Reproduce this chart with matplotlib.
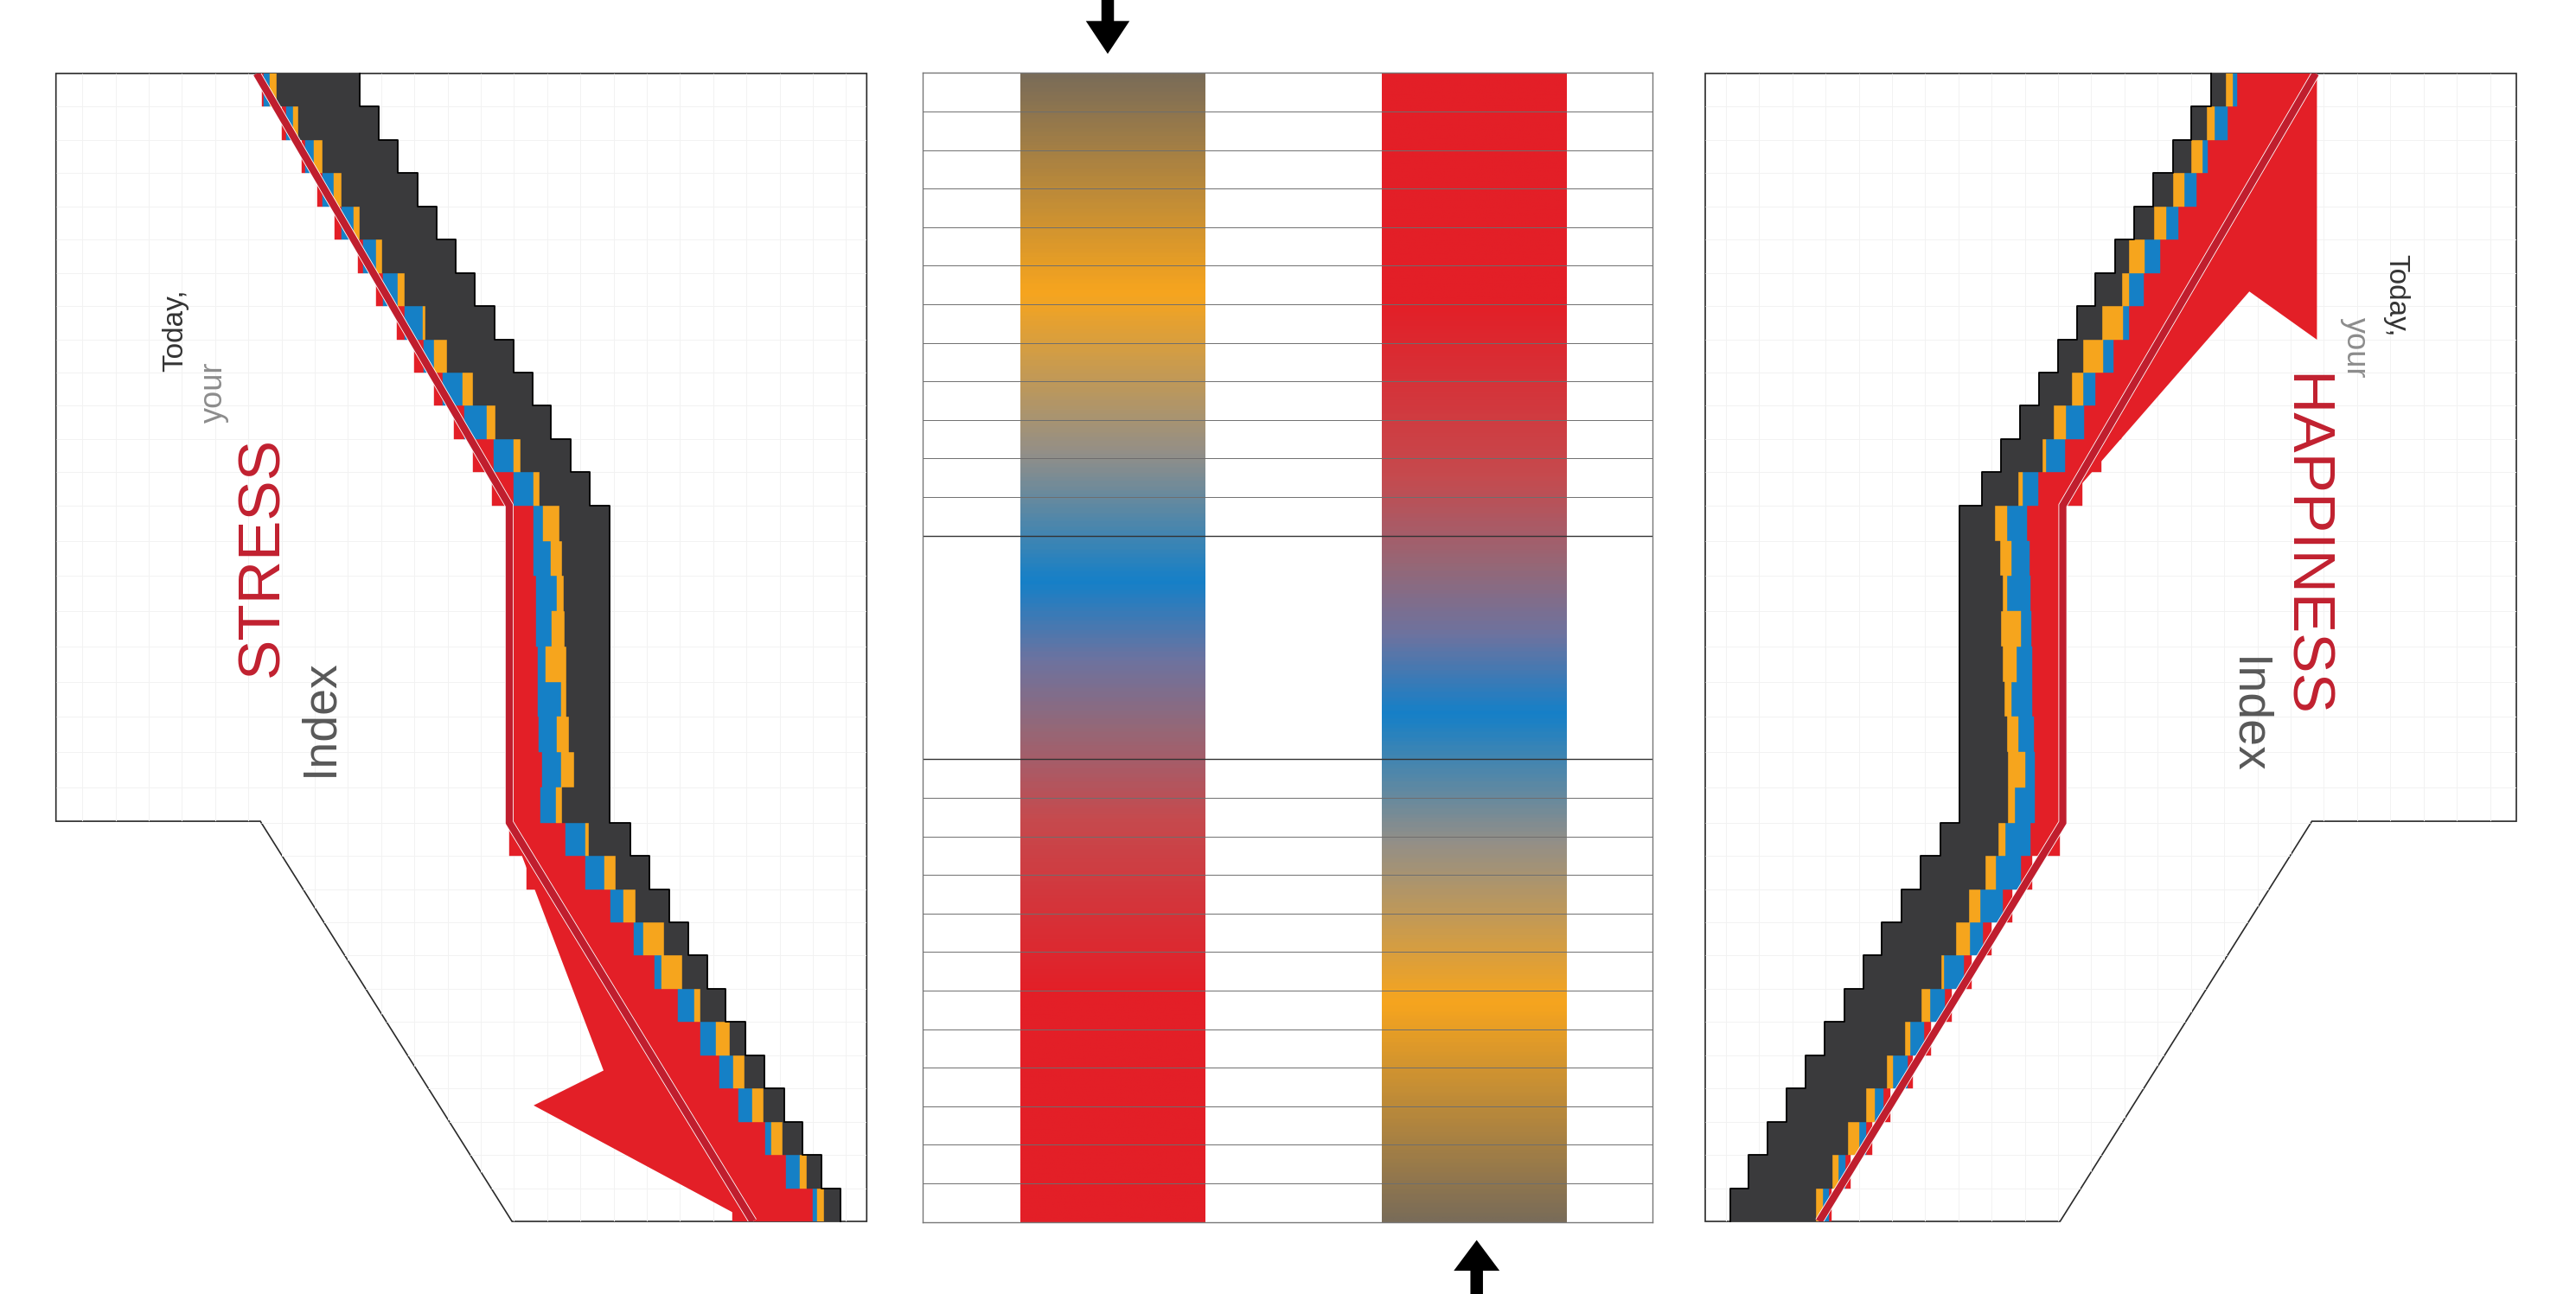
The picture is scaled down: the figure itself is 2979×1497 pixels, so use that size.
import numpy as np
import matplotlib.pyplot as plt
import matplotlib.patheffects as pe
from matplotlib.patches import Polygon, FancyArrow
from matplotlib.colors import LinearSegmentedColormap

plt.rcParams['font.family'] = ['Liberation Sans', 'DejaVu Sans']

# colours
RED = '#e31f27'
BLUE = '#1580c6'
ORANGE = '#f6a51d'
DARK = '#3a3a3c'
LINE_RED = '#c01e2e'

# ---- data: 34 daily rows, boundaries in grid cells from the panel's outer edge ----
rows = np.arange(34)

stress_red_start = ([6.09, 6.68, 7.27, 7.75, 8.26, 8.93, 9.49, 10.09, 10.61, 11.19, 11.77, 12.34, 12.92]
                    + [13.40] * 9
                    + [13.42, 13.93, 14.54, 15.15, 15.76, 16.37, 16.98, 17.59, 18.20, 18.81, 19.42, 20.03])
stress_blue_start = [6.14, 6.82, 7.39, 7.88, 8.45, 9.10, 9.68, 10.33, 10.88, 11.45, 12.10, 12.95, 13.55,
                     14.15, 14.15, 14.21, 14.22, 14.27, 14.27, 14.29, 14.40, 14.33,
                     15.09, 15.67, 16.41, 17.10, 17.73, 18.41, 19.07, 19.63, 20.21, 21.00, 21.60, 22.40]
stress_orange_start = [6.34, 7.03, 7.63, 8.23, 8.82, 9.49, 10.11, 10.85, 11.19, 12.05, 12.76, 13.55, 14.13,
                       14.42, 14.66, 14.84, 14.67, 14.50, 14.95, 14.83, 14.95, 14.80,
                       15.67, 16.24, 16.80, 17.40, 17.92, 18.89, 19.53, 20.06, 20.61, 21.17, 22.01, 22.54]
stress_dark_start = [6.53, 7.18, 7.90, 8.45, 9.00, 9.65, 10.32, 10.93, 11.57, 12.34, 13.00, 13.76, 14.32,
                     14.91, 14.97, 15.04, 15.07, 15.12, 15.12, 15.18, 15.33, 14.97,
                     15.78, 16.58, 17.15, 18.00, 18.55, 19.07, 19.96, 20.38, 20.95, 21.51, 22.23, 22.75]
stress_dark_end = ([9.00, 9.56, 10.13, 10.71, 11.27, 11.84, 12.40, 12.99, 13.55, 14.10, 14.66, 15.23, 15.81]
                   + [16.40] * 9
                   + [17.01, 17.58, 18.16, 18.72, 19.29, 19.83, 20.40, 20.98, 21.55, 22.10, 22.66, 23.23])

happy_red_start = ([5.94, 6.52, 7.09, 7.67, 8.24, 8.82, 9.39, 9.97, 10.54, 11.12, 11.69, 12.27, 12.84]
                   + [13.40] * 9
                   + [13.50, 14.33, 14.91, 15.52, 16.11, 16.70, 17.32, 17.87, 18.52, 19.06, 19.71, 20.26])
happy_blue_start = [8.26, 8.54, 9.13, 9.46, 10.01, 10.54, 11.04, 11.47, 11.92, 12.45, 12.80, 13.36, 14.16,
                    14.49, 14.41, 14.38, 14.36, 14.33, 14.33, 14.28, 14.26, 14.25,
                    14.39, 14.66, 15.19, 15.79, 16.36, 16.90, 17.52, 18.02, 18.73, 19.23, 19.85, 20.34]
happy_orange_start = [8.38, 8.94, 9.29, 9.82, 10.37, 11.00, 11.47, 11.64, 12.23, 12.83, 13.33, 13.93, 14.61,
                      15.08, 14.94, 15.08, 14.66, 14.79, 14.94, 14.74, 14.53, 14.83,
                      15.11, 15.41, 15.87, 16.16, 16.94, 17.35, 17.93, 18.45, 18.98, 19.45, 20.06, 20.51]
happy_dark_start = [8.59, 9.16, 9.61, 10.17, 10.72, 11.45, 11.67, 12.25, 12.83, 13.16, 13.70, 14.03, 14.74,
                    15.44, 15.28, 15.21, 15.24, 15.19, 15.14, 15.08, 15.04, 15.04,
                    15.33, 15.71, 16.19, 16.57, 17.02, 17.60, 18.10, 18.62, 19.25, 19.78, 20.23, 20.73]
happy_dark_end = ([9.04, 9.61, 10.17, 10.74, 11.30, 11.87, 12.45, 13.00, 13.56, 14.13, 14.69, 15.26, 15.82]
                  + [16.49] * 9
                  + [17.05, 17.62, 18.18, 18.77, 19.31, 19.88, 20.46, 21.03, 21.59, 22.16, 22.72, 23.27])

# row layout: the nine flat rows in the middle are slightly taller
row_h = np.array([1.0] * 13 + [1.06] * 9 + [1.0] * 12)
row_top = np.concatenate([[0], np.cumsum(row_h)[:-1]])
Y_MAX = row_h.sum()
K1, K2 = 13, 13 + 9 * 1.06

# trend line and arrows (cells, row units)
trend_u = [5.94, 13.42, 13.42, 20.63]
trend_row = [0, K1, K2, Y_MAX]
stress_arrow_u = [13.42, 16.21, 14.14, 20.53, 20.63]
stress_arrow_row = [K2, 30.0, 31.05, Y_MAX, Y_MAX]
happy_arrow_u = [5.90, 5.90, 7.90, 13.42, 5.94]
happy_arrow_row = [0, 8.01, 6.56, K1, 0]

# panel outline
panel_u = [0, 24, 24, 13.5, 6.05, 0]
panel_row = [0, 0, Y_MAX, Y_MAX, 22.5, 22.5]

# centre gradient key (top -> bottom of the left bar)
grad_pos = [0, 0.19, 0.33, 0.442, 0.51, 0.57, 0.65, 0.80, 1.0]
grad_col = ['#7a6c58', '#f7a51e', '#938f88', '#1580c8', '#6c73a0', '#946878', '#c64a4e', '#e31f27', '#e31f27']
centre_lines = list(range(13)) + [17.8 + i for i in range(13)]


def draw_panel(ax, red0, blue0, orange0, dark0, dark1, arrow_u, arrow_row, mirror=False):
    ax.set_xlim(24, 0) if mirror else ax.set_xlim(0, 24)
    ax.set_ylim(Y_MAX, 0)
    ax.axis('off')

    outline = Polygon(np.column_stack([panel_u, panel_row]), closed=True, facecolor='white',
                      edgecolor='#2a2a2a', lw=1.2, clip_on=False, zorder=1)
    ax.add_patch(outline)
    gx = np.arange(0.78, 24, 0.983)
    vl = ax.vlines(gx, 0, Y_MAX, color='#f2f2f2', lw=0.7, zorder=1.5)
    hl = ax.hlines(row_top[1:], 0, 24, color='#f2f2f2', lw=0.7, zorder=1.5)
    vl.set_clip_path(outline)
    hl.set_clip_path(outline)

    ax.fill(arrow_u, arrow_row, color=RED, lw=0, zorder=2)

    bounds = [red0, blue0, orange0, dark0, dark1]
    cols = [RED, BLUE, ORANGE, DARK]
    for i, c in enumerate(cols):
        left = np.array(bounds[i])
        width = np.array(bounds[i + 1]) - left
        ax.barh(row_top + row_h / 2, width, left=left, height=row_h, color=c, edgecolor=c, lw=0.3, zorder=3)

    # outer stair edge of the dark bars
    ends = np.array(dark1)
    ax.plot(np.repeat(ends, 2), np.column_stack([row_top, row_top + row_h]).ravel(),
            color='black', lw=1.3, zorder=4, clip_on=False)

    ax.plot(trend_u, trend_row, color=LINE_RED, lw=6.0, solid_capstyle='butt', solid_joinstyle='miter',
            zorder=5, path_effects=[pe.Stroke(linewidth=7.2, foreground='white'), pe.Normal()])


fig = plt.figure(figsize=(29.79, 14.97), dpi=100)
W, H = 2979, 1497

ax_l = fig.add_axes([64.7 / W, 1 - 1413 / H, 937.6 / W, 1328 / H])
draw_panel(ax_l, stress_red_start, stress_blue_start, stress_orange_start, stress_dark_start,
           stress_dark_end, stress_arrow_u, stress_arrow_row)

ax_r = fig.add_axes([1972 / W, 1 - 1413 / H, 938 / W, 1328 / H])
draw_panel(ax_r, happy_red_start, happy_blue_start, happy_orange_start, happy_dark_start,
           happy_dark_end, happy_arrow_u, happy_arrow_row, mirror=True)

# centre key
ax_c = fig.add_axes([1067 / W, 1 - 1413.7 / H, 844 / W, 1329.4 / H])
cmap = LinearSegmentedColormap.from_list('key', list(zip(grad_pos, grad_col)))
grad = np.linspace(0, 1, 600).reshape(-1, 1)
ax_c.imshow(grad, cmap=cmap, aspect='auto', extent=[0.1333, 0.3857, 29.8, 0], zorder=1)
ax_c.imshow(grad[::-1], cmap=cmap, aspect='auto', extent=[0.6293, 0.8822, 29.8, 0], zorder=1)
ax_c.set_xlim(0, 1)
ax_c.set_ylim(29.8, 0)
thin = [y for y in centre_lines if y not in (12, 17.8)]
ax_c.hlines(thin, 0, 1, color='#6e6e6e', lw=0.7, zorder=2)
ax_c.hlines([12, 17.8], 0, 1, color='#333333', lw=1.0, zorder=2)
ax_c.set_xticks([])
ax_c.set_yticks([])
for s in ax_c.spines.values():
    s.set_color('#777777')
    s.set_linewidth(1.0)

# overlay for arrows and titles (pixel coordinates)
ov = fig.add_axes([0, 0, 1, 1], zorder=10)
ov.set_xlim(0, W)
ov.set_ylim(H, 0)
ov.axis('off')
ov.patch.set_alpha(0)
ov.add_patch(FancyArrow(1281, 0, 0, 62.3, width=14.5, head_width=50.5, head_length=38,
                        length_includes_head=True, color='black', lw=0))
ov.add_patch(FancyArrow(1707.7, H, 0, -(H - 1434.6), width=14.5, head_width=53, head_length=35.5,
                        length_includes_head=True, color='black', lw=0))

ov.text(202.4, 382.4, 'Today,', rotation=90, ha='center', va='center', fontsize=24, color='#333333')
ov.text(247.3, 453.9, 'your', rotation=90, ha='center', va='center', fontsize=26, color='#8c8c8c')
ov.text(303.5, 644.2, 'STRESS', rotation=90, ha='center', va='center', fontsize=50, color='#c1202f')
ov.text(370, 829.8, 'Index', rotation=90, ha='center', va='center', fontsize=40, color='#585858')

ov.text(2771, 341.9, 'Today,', rotation=-90, ha='center', va='center', fontsize=24, color='#333333')
ov.text(2723, 402.2, 'your', rotation=-90, ha='center', va='center', fontsize=26, color='#8c8c8c')
ov.text(2664, 631.1, 'HAPPINESS', rotation=-90, ha='center', va='center', fontsize=50, color='#c1202f')
ov.text(2598, 827.4, 'Index', rotation=-90, ha='center', va='center', fontsize=40, color='#585858')

fig.savefig('out.png', dpi=100, facecolor='white')
